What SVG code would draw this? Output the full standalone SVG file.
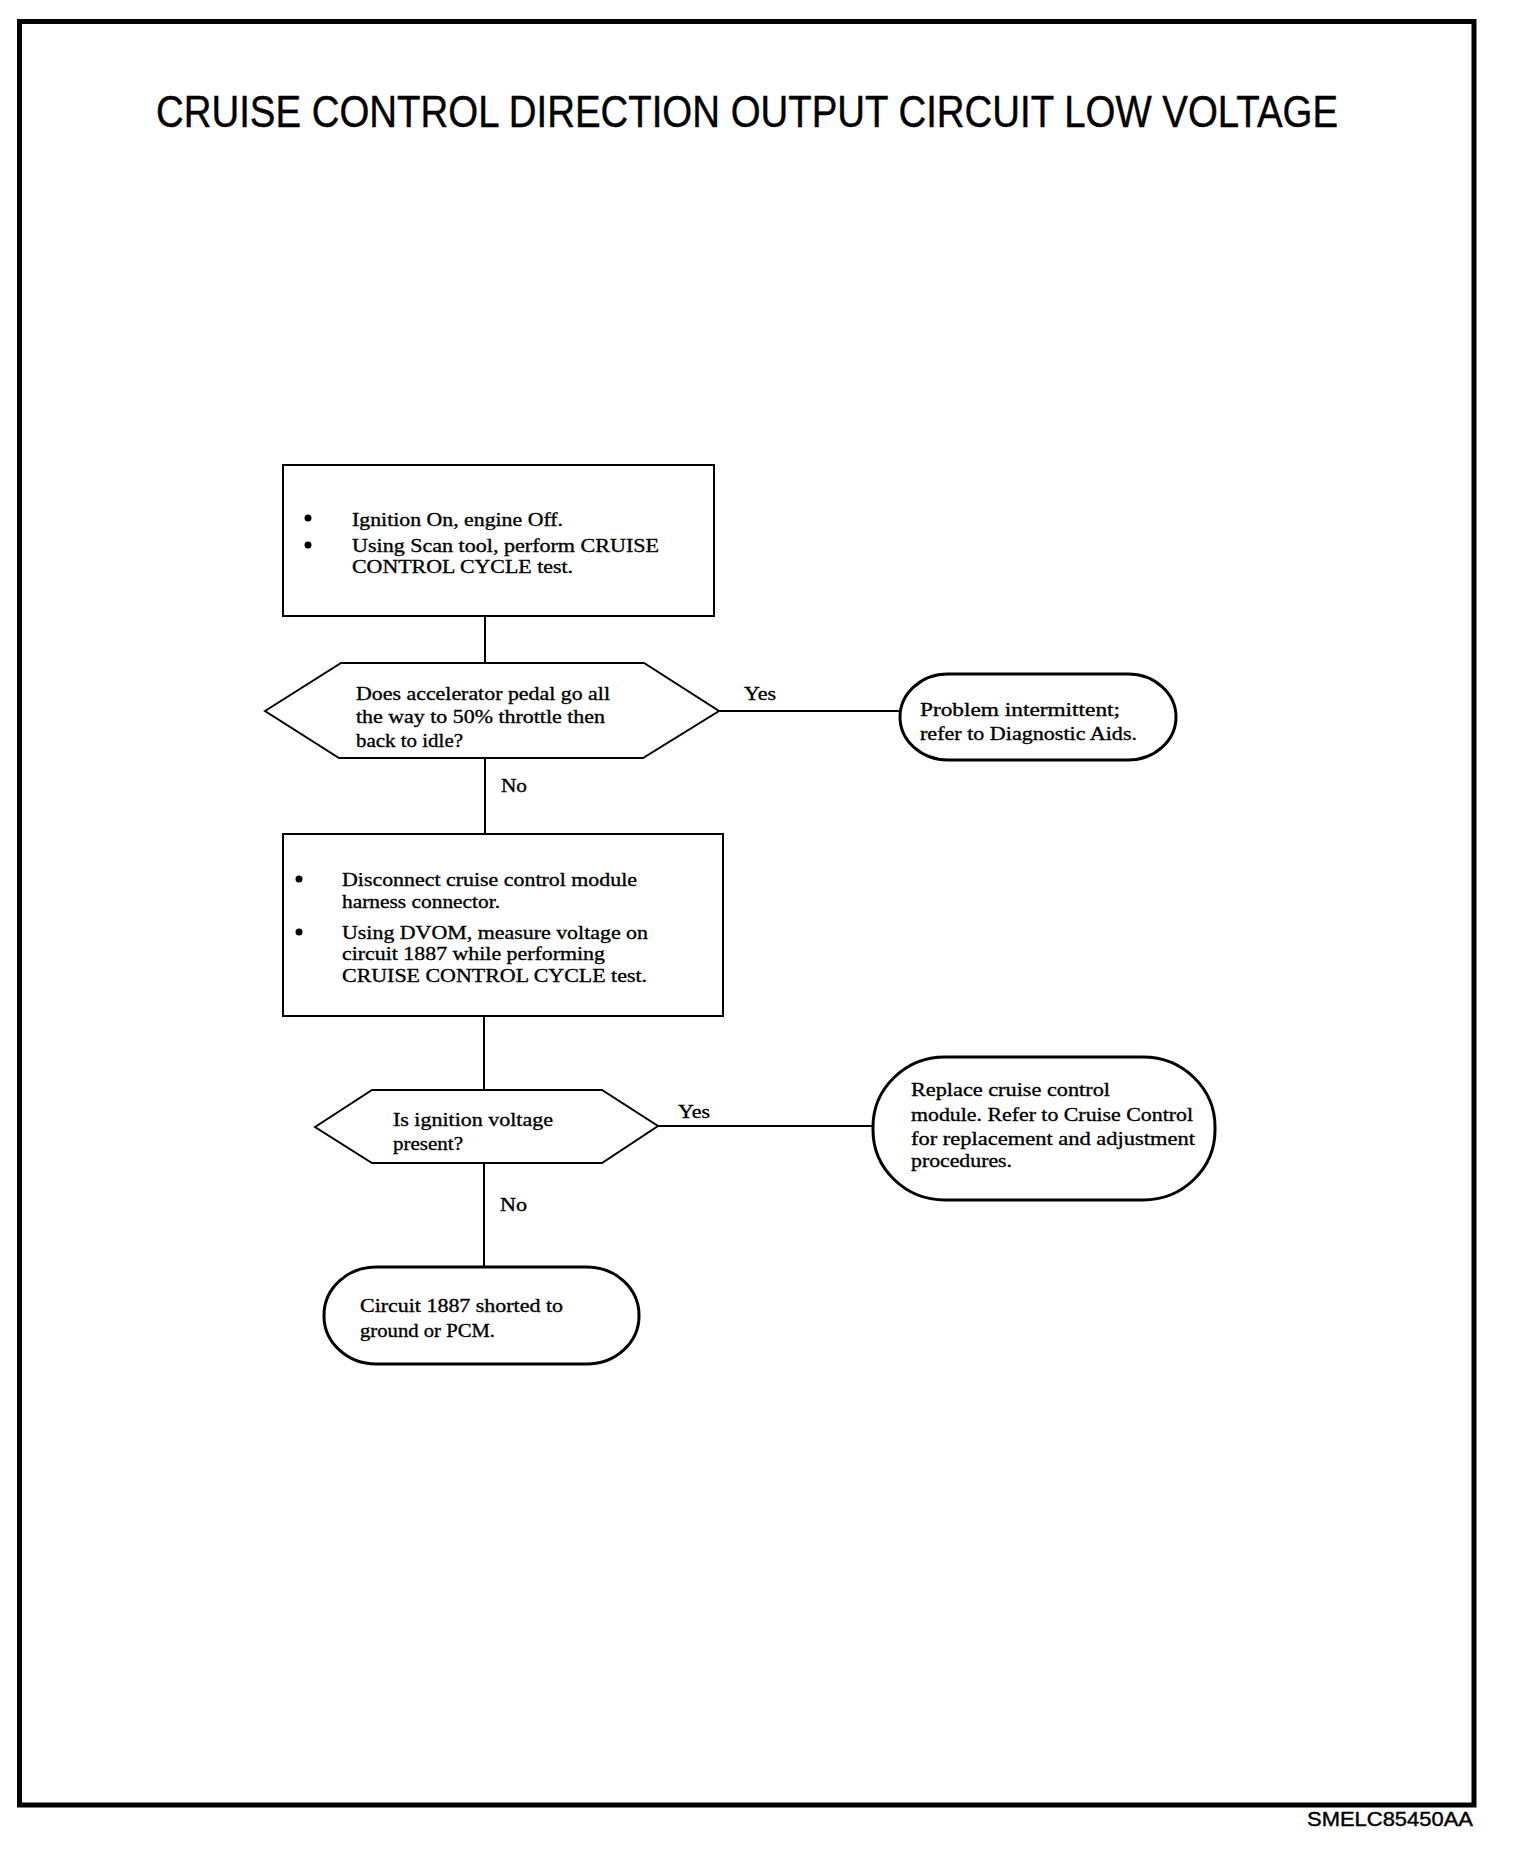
<svg xmlns="http://www.w3.org/2000/svg" width="1520" height="1860" viewBox="0 0 1520 1860">
<style>
.t{font-family:"Liberation Serif","Times New Roman",serif;font-size:19.5px;fill:#000;stroke:#000;stroke-width:0.35}
.h{font-family:"Liberation Sans",Arial,sans-serif;fill:#000;stroke:#000;stroke-width:0.4}
.box{fill:#fff;stroke:#000;stroke-width:2}
.rnd{fill:#fff;stroke:#000;stroke-width:3}
.ln{stroke:#000;stroke-width:2;fill:none}
</style>
<rect width="1520" height="1860" fill="#fff"/>
<rect x="19.5" y="21.5" width="1454.5" height="1783.5" fill="none" stroke="#000" stroke-width="5"/>
<text class="h" x="156" y="127" font-size="44" textLength="1182" lengthAdjust="spacingAndGlyphs">CRUISE CONTROL DIRECTION OUTPUT CIRCUIT LOW VOLTAGE</text>
<text class="h" x="1307" y="1826" font-size="19.5" textLength="166" lengthAdjust="spacingAndGlyphs">SMELC85450AA</text>

<g id="connectors">
<line class="ln" x1="485" y1="616" x2="485" y2="663"/>
<line class="ln" x1="719" y1="711" x2="900" y2="711"/>
<line class="ln" x1="485" y1="758" x2="485" y2="834"/>
<line class="ln" x1="484" y1="1016" x2="484" y2="1090"/>
<line class="ln" x1="658" y1="1126" x2="873" y2="1126"/>
<line class="ln" x1="484" y1="1163" x2="484" y2="1267"/>
<text class="t" x="744" y="700" textLength="32" lengthAdjust="spacingAndGlyphs">Yes</text>
<text class="t" x="501" y="792" textLength="26" lengthAdjust="spacingAndGlyphs">No</text>
<text class="t" x="678" y="1118" textLength="32" lengthAdjust="spacingAndGlyphs">Yes</text>
<text class="t" x="500" y="1211" textLength="27" lengthAdjust="spacingAndGlyphs">No</text>
</g>

<g id="step1">
<rect class="box" x="283" y="465" width="431" height="151"/>
<circle cx="308" cy="518" r="3.5"/>
<circle cx="308" cy="545" r="3.5"/>
<text class="t" x="352" y="526" textLength="211" lengthAdjust="spacingAndGlyphs">Ignition On, engine Off.</text>
<text class="t" x="352" y="552" textLength="307" lengthAdjust="spacingAndGlyphs">Using Scan tool, perform CRUISE</text>
<text class="t" x="352" y="573" textLength="221" lengthAdjust="spacingAndGlyphs">CONTROL CYCLE test.</text>
</g>

<g id="decision1">
<polygon class="box" points="265,711 341,663 644,663 719,711 643,758 339,758"/>
<text class="t" x="356" y="700" textLength="254" lengthAdjust="spacingAndGlyphs">Does accelerator pedal go all</text>
<text class="t" x="356" y="723" textLength="249" lengthAdjust="spacingAndGlyphs">the way to 50% throttle then</text>
<text class="t" x="356" y="747" textLength="107" lengthAdjust="spacingAndGlyphs">back to idle?</text>
</g>

<g id="result1">
<rect class="rnd" x="900" y="674" width="276" height="86" rx="48" ry="43"/>
<text class="t" x="920" y="716" textLength="200" lengthAdjust="spacingAndGlyphs">Problem intermittent;</text>
<text class="t" x="920" y="740" textLength="217" lengthAdjust="spacingAndGlyphs">refer to Diagnostic Aids.</text>
</g>

<g id="step2">
<rect class="box" x="283" y="834" width="440" height="182"/>
<circle cx="299" cy="879" r="3.5"/>
<circle cx="299" cy="932" r="3.5"/>
<text class="t" x="342" y="886" textLength="295" lengthAdjust="spacingAndGlyphs">Disconnect cruise control module</text>
<text class="t" x="342" y="908" textLength="158" lengthAdjust="spacingAndGlyphs">harness connector.</text>
<text class="t" x="342" y="939" textLength="306" lengthAdjust="spacingAndGlyphs">Using DVOM, measure voltage on</text>
<text class="t" x="342" y="960" textLength="263" lengthAdjust="spacingAndGlyphs">circuit 1887 while performing</text>
<text class="t" x="342" y="982" textLength="305" lengthAdjust="spacingAndGlyphs">CRUISE CONTROL CYCLE test.</text>
</g>

<g id="decision2">
<polygon class="box" points="315,1127 372,1090 602,1090 658,1126 602,1163 372,1163"/>
<text class="t" x="393" y="1126" textLength="160" lengthAdjust="spacingAndGlyphs">Is ignition voltage</text>
<text class="t" x="393" y="1150" textLength="70" lengthAdjust="spacingAndGlyphs">present?</text>
</g>

<g id="result2">
<rect class="rnd" x="873" y="1057" width="342" height="143" rx="72" ry="70"/>
<text class="t" x="911" y="1096" textLength="199" lengthAdjust="spacingAndGlyphs">Replace cruise control</text>
<text class="t" x="911" y="1121" textLength="282" lengthAdjust="spacingAndGlyphs">module. Refer to Cruise Control</text>
<text class="t" x="911" y="1145" textLength="284" lengthAdjust="spacingAndGlyphs">for replacement and adjustment</text>
<text class="t" x="911" y="1167" textLength="101" lengthAdjust="spacingAndGlyphs">procedures.</text>
</g>

<g id="result3">
<rect class="rnd" x="324" y="1267" width="315" height="97" rx="52" ry="48"/>
<text class="t" x="360" y="1312" textLength="203" lengthAdjust="spacingAndGlyphs">Circuit 1887 shorted to</text>
<text class="t" x="360" y="1337" textLength="135" lengthAdjust="spacingAndGlyphs">ground or PCM.</text>
</g>
</svg>
